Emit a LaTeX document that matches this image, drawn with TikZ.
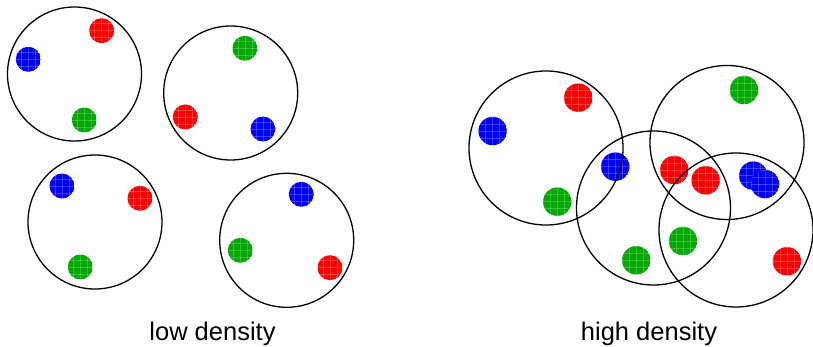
\documentclass[tikz,border=0pt]{standalone}
\usepackage{fontspec}
\setmainfont{Liberation Sans}
\definecolor{cred}{RGB}{255,0,0}
\definecolor{cblue}{RGB}{0,0,255}
\definecolor{cgreen}{RGB}{0,170,0}
\newcommand\mydot[4]{%
  \begin{scope}[shift={(#1,#2)}]
    \clip (0,0) circle (#3pt);
    \fill[#4] (0,0) circle (#3pt);
    \foreach \k in {-14,-7,0,7,14}{
      \draw[white,opacity=0.22,line width=0.6pt] (\k,-20) -- (\k,20);
      \draw[white,opacity=0.22,line width=0.6pt] (-20,\k) -- (20,\k);
    }
  \end{scope}}
\tikzset{ring/.style={draw=black,line width=1.3pt},
  lbl/.style={anchor=base,font=\fontsize{25.5}{30}\selectfont}}
\begin{document}
\begin{tikzpicture}[x=1pt,y=-1pt]
\useasboundingbox (0,0) rectangle (813,347);
% left group dots
\mydot{101.7}{30.7}{12.5}{cred}
\mydot{28.3}{59.3}{12.5}{cblue}
\mydot{84.3}{120}{12.5}{cgreen}
\mydot{245}{48.3}{12.5}{cgreen}
\mydot{185.3}{117}{12.5}{cred}
\mydot{263}{129}{12.5}{cblue}
\mydot{62}{186}{12.5}{cblue}
\mydot{140}{198.3}{12.5}{cred}
\mydot{80.3}{267}{12.5}{cgreen}
\mydot{301.3}{194.3}{12.5}{cblue}
\mydot{240.3}{250.3}{12.5}{cgreen}
\mydot{330}{267.7}{12.5}{cred}
% left group circles
\draw[ring] (74.5,74) circle (67pt);
\draw[ring] (230.7,93) circle (67pt);
\draw[ring] (95,222) circle (67pt);
\draw[ring] (286.7,240.3) circle (67pt);
% right group dots
\mydot{492.7}{131}{14.3}{cblue}
\mydot{578.3}{97.7}{14.3}{cred}
\mydot{557.3}{201.7}{14.3}{cgreen}
\mydot{615.3}{166.7}{14.3}{cblue}
\mydot{674.3}{170}{14.3}{cred}
\mydot{705.7}{180.3}{14.3}{cred}
\mydot{744}{90}{14.3}{cgreen}
\mydot{753.3}{175.7}{14.3}{cblue}
\mydot{765}{184}{14.3}{cblue}
\mydot{683}{241}{14.3}{cgreen}
\mydot{636.3}{260.3}{14.3}{cgreen}
\mydot{787}{261.3}{14.3}{cred}
% right group circles
\draw[ring] (546,148) circle (77pt);
\draw[ring] (727,142.5) circle (77pt);
\draw[ring] (653.5,208) circle (77pt);
\draw[ring] (736,230) circle (77pt);
% labels
\node[lbl] (low) at (212.5,340.5) {low density};
\node[lbl] (high) at (649,340.5) {high density};
\end{tikzpicture}
\end{document}
